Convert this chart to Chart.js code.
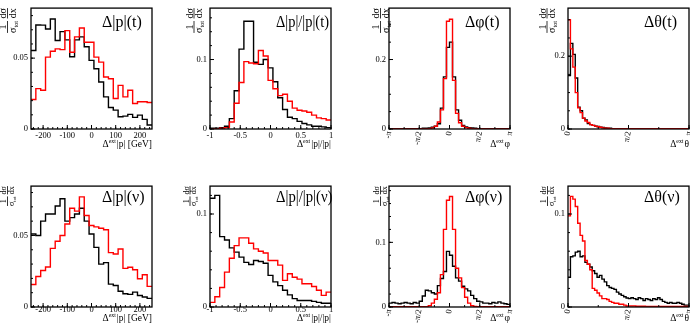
<!DOCTYPE html>
<html>
<head>
<meta charset="utf-8">
<script src="https://cdn.jsdelivr.net/npm/chart.js@4.4.0/dist/chart.umd.min.js"></script>
<style>
  html, body { margin: 0; padding: 0; background: #fff; overflow: hidden; }
  body { width: 690px; height: 326px; position: relative; }
  canvas { position: absolute; }
</style>
</head>
<body>
<script>
const PI = Math.PI;

// bin contents; red is drawn on top of black
const pAbsTBlack = [0.0554, 0.0734, 0.0733, 0.0706, 0.0776, 0.0624, 0.0687, 0.0629, 0.0510, 0.0629, 0.0650, 0.0580, 0.0484,
  0.0425, 0.0332, 0.0227, 0.0152, 0.0133, 0.0086, 0.0091, 0.0103, 0.0082, 0.0098, 0.0068, 0.0028];
const pAbsTRed = [0.0208, 0.0285, 0.0273, 0.0507, 0.0549, 0.0565, 0.0560, 0.0694, 0.0542, 0.0650, 0.0713, 0.0612, 0.0612,
  0.0507, 0.0472, 0.0367, 0.0355, 0.0215, 0.0308, 0.0227, 0.0273, 0.0180, 0.0192, 0.0192, 0.0187];

const pRelTBlack = [0.001, 0.001, 0.002, 0.004, 0.015, 0.055, 0.115, 0.155, 0.155, 0.096, 0.093, 0.100, 0.088,
  0.068, 0.045, 0.028, 0.017, 0.015, 0.011, 0.008, 0.006, 0.004, 0.004, 0.003, 0.002];
const pRelTRed = [0.0, 0.0, 0.001, 0.002, 0.010, 0.037, 0.067, 0.097, 0.095, 0.094, 0.113, 0.105, 0.070,
  0.058, 0.048, 0.050, 0.040, 0.030, 0.027, 0.026, 0.024, 0.020, 0.016, 0.015, 0.013];

const phiTBlack = [0.001, 0.001, 0.001, 0.001, 0.001, 0.001, 0.001, 0.001, 0.001, 0.001,
  0.001, 0.002, 0.002, 0.003, 0.005, 0.008, 0.015, 0.060, 0.150, 0.235,
  0.250, 0.150, 0.055, 0.025, 0.010, 0.006, 0.004, 0.003, 0.002, 0.001,
  0.001, 0.001, 0.001, 0.001, 0.001, 0.001, 0.001, 0.001, 0.001, 0.001];
const phiTRed = [0.0005, 0.0005, 0.0005, 0.0005, 0.0005, 0.0005, 0.0005, 0.0005, 0.0005, 0.0005,
  0.0005, 0.0005, 0.0005, 0.001, 0.003, 0.008, 0.020, 0.055, 0.145, 0.310,
  0.316, 0.140, 0.045, 0.018, 0.008, 0.004, 0.002, 0.001, 0.0005, 0.0005,
  0.0005, 0.0005, 0.0005, 0.0005, 0.0005, 0.0005, 0.0005, 0.0005, 0.0005, 0.0005];

const thetaTBlack = [0.147, 0.235, 0.205, 0.140, 0.060, 0.050, 0.030, 0.025, 0.015, 0.012,
  0.010, 0.008, 0.007, 0.005, 0.004, 0.003, 0.002, 0.002, 0.001, 0.001,
  0.001, 0.001, 0.001, 0.001, 0.001, 0.001, 0.001, 0.001, 0.001, 0.001,
  0.001, 0.001, 0.001, 0.001, 0.001, 0.001, 0.001, 0.001, 0.001, 0.001,
  0.001, 0.001, 0.001, 0.001, 0.001, 0.001, 0.001, 0.001, 0.001, 0.001];
const thetaTRed = [0.300, 0.220, 0.170, 0.100, 0.058, 0.045, 0.030, 0.022, 0.018, 0.012,
  0.010, 0.008, 0.006, 0.005, 0.003, 0.002, 0.002, 0.001, 0.001, 0.001,
  0.001, 0.001, 0.001, 0.001, 0.001, 0.001, 0.001, 0.001, 0.001, 0.001,
  0.001, 0.001, 0.001, 0.001, 0.001, 0.001, 0.001, 0.001, 0.001, 0.001,
  0.001, 0.001, 0.001, 0.001, 0.001, 0.001, 0.001, 0.001, 0.001, 0.001];

const pAbsNBlack = [0.051, 0.050, 0.060, 0.065, 0.065, 0.0706, 0.0757, 0.060, 0.0625, 0.065, 0.069, 0.060, 0.051,
  0.0417, 0.030, 0.031, 0.016, 0.015, 0.011, 0.0093, 0.0088, 0.0104, 0.008, 0.007, 0.006];
const pAbsNRed = [0.0157, 0.0213, 0.0255, 0.028, 0.041, 0.046, 0.050, 0.058, 0.069, 0.067, 0.077, 0.064, 0.057,
  0.056, 0.055, 0.054, 0.038, 0.037, 0.0405, 0.027, 0.0278, 0.026, 0.0197, 0.0225, 0.0144];

const pRelNBlack = [0.117, 0.120, 0.0757, 0.072, 0.0636, 0.059, 0.0536, 0.048, 0.0457, 0.050, 0.049, 0.047, 0.034,
  0.027, 0.023, 0.018, 0.013, 0.009, 0.007, 0.007, 0.007, 0.006, 0.005, 0.004, 0.004];
const pRelNRed = [0.005, 0.011, 0.021, 0.0375, 0.0525, 0.066, 0.0743, 0.0743, 0.0686, 0.0625, 0.060, 0.058, 0.050,
  0.050, 0.045, 0.0286, 0.0357, 0.032, 0.030, 0.025, 0.025, 0.022, 0.018, 0.0125, 0.016];

const phiNBlack = [0.006, 0.007, 0.006, 0.005, 0.006, 0.007, 0.006, 0.005, 0.007, 0.006,
  0.009, 0.017, 0.026, 0.025, 0.022, 0.020, 0.033, 0.044, 0.055, 0.086,
  0.080, 0.063, 0.045, 0.040, 0.032, 0.028, 0.025, 0.018, 0.013, 0.009,
  0.008, 0.006, 0.006, 0.005, 0.007, 0.006, 0.008, 0.006, 0.005, 0.004];
const phiNRed = [0.0005, 0.0005, 0.0005, 0.0005, 0.0005, 0.0005, 0.0005, 0.0005, 0.0005, 0.0005,
  0.0005, 0.0005, 0.0005, 0.002, 0.006, 0.012, 0.022, 0.050, 0.120, 0.165,
  0.171, 0.120, 0.060, 0.045, 0.030, 0.015, 0.006, 0.002, 0.001, 0.0005,
  0.0005, 0.0005, 0.0005, 0.0005, 0.0005, 0.0005, 0.0005, 0.0005, 0.0005, 0.0005];

const thetaNBlack = [0.032, 0.054, 0.055, 0.059, 0.060, 0.054, 0.055, 0.048, 0.046, 0.043,
  0.039, 0.036, 0.032, 0.034, 0.030, 0.027, 0.023, 0.021, 0.020, 0.019,
  0.016, 0.014, 0.0125, 0.011, 0.0096, 0.009, 0.010, 0.009, 0.008, 0.010,
  0.009, 0.007, 0.009, 0.008, 0.007, 0.009, 0.008, 0.010, 0.008, 0.006,
  0.005, 0.004, 0.005, 0.004, 0.004, 0.005, 0.004, 0.003, 0.002, 0.002];
const thetaNRed = [0.098, 0.119, 0.116, 0.108, 0.090, 0.077, 0.071, 0.050, 0.046, 0.040,
  0.020, 0.018, 0.015, 0.012, 0.009, 0.009, 0.008, 0.006, 0.005, 0.004,
  0.004, 0.003, 0.003, 0.002, 0.001, 0.001, 0.001, 0.001, 0.0008, 0.0008,
  0.0008, 0.0008, 0.0006, 0.0006, 0.0006, 0.0005, 0.0005, 0.0005, 0.0005, 0.0005,
  0.0005, 0.0005, 0.0005, 0.0005, 0.0005, 0.0005, 0.0005, 0.0005, 0.0005, 0.0005];

// axis ticks
const pTicks = [-200, -100, 0, 100, 200];
const pTickLabels = ['-200', '-100', '0', '100', '200'];
const relTicks = [-1, -0.5, 0, 0.5, 1];
const relTickLabels = ['-1', '-0.5', '0', '0.5', '1'];
const phiTicks = [-PI, -PI / 2, 0, PI / 2, PI];
const phiTickLabels = ['-π', '-π/2', '0', 'π/2', 'π'];
const thetaTicks = [0, PI / 2, PI];
const thetaTickLabels = ['0', 'π/2', 'π'];

const panels = [
  { title: 'Δ|p|(t)', xTitle: '|p| [GeV]', black: pAbsTBlack, red: pAbsTRed, xMin: -250, xMax: 250, yMax: 0.0853,
    xTicks: pTicks, xLabels: pTickLabels, xMinor: 20, xRot: 0, yTicks: [0, 0.05], yLabels: ['0', '0.05'], yMinor: 0.01 },
  { title: 'Δ|p|/|p|(t)', xTitle: '|p|/|p|', black: pRelTBlack, red: pRelTRed, xMin: -1, xMax: 1, yMax: 0.174,
    xTicks: relTicks, xLabels: relTickLabels, xMinor: 0.1, xRot: 0, yTicks: [0, 0.1], yLabels: ['0', '0.1'], yMinor: 0.02 },
  { title: 'Δφ(t)', xTitle: 'φ', black: phiTBlack, red: phiTRed, xMin: -PI, xMax: PI, yMax: 0.348,
    xTicks: phiTicks, xLabels: phiTickLabels, xMinor: PI / 4, xRot: 80, yTicks: [0, 0.2], yLabels: ['0', '0.2'], yMinor: 0.05 },
  { title: 'Δθ(t)', xTitle: 'θ', black: thetaTBlack, red: thetaTRed, xMin: 0, xMax: PI, yMax: 0.332,
    xTicks: thetaTicks, xLabels: thetaTickLabels, xMinor: PI / 4, xRot: 80, yTicks: [0, 0.2], yLabels: ['0', '0.2'], yMinor: 0.05 },
  { title: 'Δ|p|(ν)', xTitle: '|p| [GeV]', black: pAbsNBlack, red: pAbsNRed, xMin: -250, xMax: 250, yMax: 0.0845,
    xTicks: pTicks, xLabels: pTickLabels, xMinor: 20, xRot: 0, yTicks: [0, 0.05], yLabels: ['0', '0.05'], yMinor: 0.01 },
  { title: 'Δ|p|/|p|(ν)', xTitle: '|p|/|p|', black: pRelNBlack, red: pRelNRed, xMin: -1, xMax: 1, yMax: 0.13,
    xTicks: relTicks, xLabels: relTickLabels, xMinor: 0.1, xRot: 0, yTicks: [0, 0.1], yLabels: ['0', '0.1'], yMinor: 0.02 },
  { title: 'Δφ(ν)', xTitle: 'φ', black: phiNBlack, red: phiNRed, xMin: -PI, xMax: PI, yMax: 0.187,
    xTicks: phiTicks, xLabels: phiTickLabels, xMinor: PI / 4, xRot: 80, yTicks: [0, 0.1], yLabels: ['0', '0.1'], yMinor: 0.02 },
  { title: 'Δθ(ν)', xTitle: 'θ', black: thetaNBlack, red: thetaNRed, xMin: 0, xMax: PI, yMax: 0.13,
    xTicks: thetaTicks, xLabels: thetaTickLabels, xMinor: PI / 4, xRot: 80, yTicks: [0, 0.1], yLabels: ['0', '0.1'], yMinor: 0.02 }
];

// layout of the 2x4 grid (page pixels)
const SERIF = '"Liberation Serif", "Times New Roman", serif';
const COLS = [31, 210, 389, 568];
const ROWS = [7, 185];
const W = 121, H = 122;
const Y_AXIS_W = 40, X_AXIS_H = 30, PAD_TOP = 7, PAD_RIGHT = 12;
const TITLE_DX = [71, 66, 76, 76];
const TITLE_DY = [19, 15.5];
const TITLE_MAXW = [[60, 53, 60, 60], [60, 56.5, 60, 60]];
const XT_DY = [18, 13.5];
const XLABEL_PAD = [1.5, -2];
const YT_DX = [[-23.5, -16, -8.5, -21], [-23.5, -20, -8.5, -20.5]];
const YT_FS = [10, 8];

Chart.defaults.font.family = SERIF;

function histPoints(vals, lo, hi) {
  const w = (hi - lo) / vals.length;
  const pts = vals.map((v, i) => ({ x: lo + i * w, y: v }));
  pts.push({ x: hi, y: vals[vals.length - 1] });
  return pts;
}

function drawYTitle(ctx, cx, top, fs) {
  const small = fs * 0.62;
  ctx.save();
  ctx.translate(cx, top);
  ctx.rotate(-PI / 2);
  ctx.fillStyle = '#000';
  ctx.strokeStyle = '#000';
  ctx.lineWidth = 0.8;
  ctx.font = fs + 'px ' + SERIF;
  const wDs = ctx.measureText('dσ').width, wDx = ctx.measureText('dx').width, wS = ctx.measureText('σ').width;
  ctx.font = small + 'px ' + SERIF;
  const wTot = ctx.measureText('tot').width;
  const w2 = Math.max(wDs, wDx), wa = wS + wTot;
  const x2 = -w2, x1 = -w2 - fs * 0.25 - wa;
  ctx.beginPath();
  ctx.moveTo(x1, 0); ctx.lineTo(x1 + wa, 0);
  ctx.moveTo(x2, 0); ctx.lineTo(0, 0);
  ctx.stroke();
  ctx.font = fs + 'px ' + SERIF;
  ctx.textBaseline = 'alphabetic';
  ctx.textAlign = 'center';
  ctx.fillText('1', x1 + wa / 2, -fs * 0.15);
  ctx.fillText('dσ', x2 + w2 / 2, -fs * 0.15);
  ctx.fillText('dx', x2 + w2 / 2, fs * 0.8);
  ctx.textAlign = 'left';
  ctx.fillText('σ', x1, fs * 0.8);
  ctx.font = small + 'px ' + SERIF;
  ctx.fillText('tot', x1 + wS, fs * 0.8 + small * 0.35);
  ctx.restore();
}

function drawXTitle(ctx, right, base, rest, fs) {
  const small = fs * 0.62;
  ctx.save();
  ctx.fillStyle = '#000';
  ctx.textBaseline = 'alphabetic';
  ctx.textAlign = 'left';
  ctx.font = fs + 'px ' + SERIF;
  const wD = ctx.measureText('Δ').width, wR = ctx.measureText(rest).width;
  ctx.font = small + 'px ' + SERIF;
  const wE = ctx.measureText('ext').width;
  const x = right - wD - wE - wR - 1;
  ctx.font = fs + 'px ' + SERIF;
  ctx.fillText('Δ', x, base);
  ctx.font = small + 'px ' + SERIF;
  ctx.fillText('ext', x + wD, base - fs * 0.38);
  ctx.font = fs + 'px ' + SERIF;
  ctx.fillText(rest, x + wD + wE + 1, base);
  ctx.restore();
}

// frame, inward ticks and the texts ROOT puts round each pad
function decor(p, col, row) {
  return {
    id: 'decor',
    afterDraw(chart) {
      const { ctx, chartArea: a } = chart;
      const xs = chart.scales.x, ys = chart.scales.y;
      ctx.save();
      ctx.strokeStyle = '#000';
      ctx.lineWidth = 1;
      ctx.beginPath();
      const x0 = Math.ceil(p.xMin / p.xMinor - 1e-6) * p.xMinor;
      for (let v = x0; v <= p.xMax + 1e-6; v += p.xMinor) {
        const px = xs.getPixelForValue(v);
        ctx.moveTo(px, a.bottom); ctx.lineTo(px, a.bottom - 2);
      }
      p.xTicks.forEach(v => {
        const px = xs.getPixelForValue(v);
        ctx.moveTo(px, a.bottom); ctx.lineTo(px, a.bottom - 4);
      });
      for (let v = 0; v <= p.yMax + 1e-9; v += p.yMinor) {
        const py = ys.getPixelForValue(v);
        ctx.moveTo(a.left, py); ctx.lineTo(a.left + 2, py);
      }
      p.yTicks.forEach(v => {
        const py = ys.getPixelForValue(v);
        ctx.moveTo(a.left, py); ctx.lineTo(a.left + 4, py);
      });
      ctx.stroke();
      ctx.lineWidth = 1.3;
      ctx.strokeRect(a.left, a.top, a.right - a.left, a.bottom - a.top);

      ctx.fillStyle = '#000';
      ctx.font = '16px ' + SERIF;
      ctx.textAlign = 'left';
      ctx.textBaseline = 'alphabetic';
      ctx.fillText(p.title, a.left + TITLE_DX[col], a.top + TITLE_DY[row], TITLE_MAXW[row][col]);
      ctx.restore();

      drawXTitle(ctx, a.right, a.bottom + XT_DY[row], p.xTitle, 9.5);
      drawYTitle(ctx, a.left + YT_DX[row][col], a.top, YT_FS[row]);
    }
  };
}

panels.forEach((p, idx) => {
  const col = idx % 4, row = Math.floor(idx / 4);
  const canvas = document.createElement('canvas');
  canvas.width = Y_AXIS_W + W + PAD_RIGHT;
  canvas.height = PAD_TOP + H + X_AXIS_H;
  canvas.style.left = (COLS[col] - Y_AXIS_W) + 'px';
  canvas.style.top = (ROWS[row] - PAD_TOP) + 'px';
  document.body.appendChild(canvas);

  new Chart(canvas, {
    type: 'line',
    data: {
      datasets: [
        { data: histPoints(p.red, p.xMin, p.xMax), borderColor: '#ff0000', stepped: true },
        { data: histPoints(p.black, p.xMin, p.xMax), borderColor: '#000000', stepped: true }
      ]
    },
    options: {
      responsive: false,
      animation: false,
      events: [],
      layout: { padding: { left: 0, bottom: 0, top: PAD_TOP, right: PAD_RIGHT } },
      elements: {
        point: { radius: 0 },
        line: { borderWidth: 1.4, tension: 0, fill: false }
      },
      plugins: { legend: { display: false }, tooltip: { enabled: false } },
      scales: {
        x: {
          type: 'linear', min: p.xMin, max: p.xMax,
          afterFit: s => { s.height = X_AXIS_H; },
          afterBuildTicks: s => { s.ticks = p.xTicks.map(v => ({ value: v })); },
          grid: { display: false, drawTicks: false },
          border: { display: false },
          ticks: {
            autoSkip: false, minRotation: p.xRot, maxRotation: p.xRot,
            padding: p.xRot ? 1.5 : XLABEL_PAD[row],
            color: '#000', font: { family: SERIF, size: 8.5 },
            callback: (v, i) => p.xLabels[i]
          }
        },
        y: {
          type: 'linear', min: 0, max: p.yMax,
          afterFit: s => { s.width = Y_AXIS_W; },
          afterBuildTicks: s => { s.ticks = p.yTicks.map(v => ({ value: v })); },
          grid: { display: false, drawTicks: false },
          border: { display: false },
          ticks: {
            padding: 3, color: '#000', font: { family: SERIF, size: 8.5 },
            callback: (v, i) => p.yLabels[i]
          }
        }
      }
    },
    plugins: [decor(p, col, row)]
  });
});
</script>
</body>
</html>
